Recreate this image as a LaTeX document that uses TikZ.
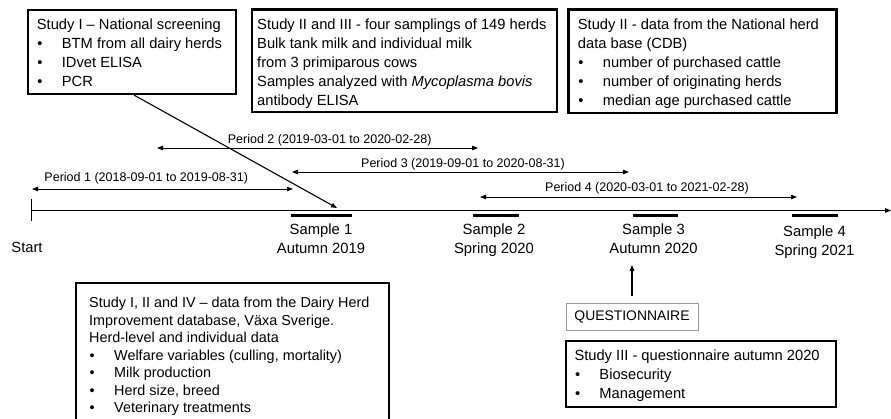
\documentclass[tikz,border=0pt]{standalone}
\usepackage{fontspec}
\setmainfont{Liberation Sans}
\usetikzlibrary{arrows.meta,calc}
\newcommand{\bxt}[5]{\parbox[c][#2][t]{#1}{\parskip=0pt\raggedright\leftskip=#3\relax\rule{0pt}{#4}#5}}
\newcommand{\itm}{\hspace*{0.5pt}\makebox[24.5pt][l]{\textbullet}}
\begin{document}
\begin{tikzpicture}[x=1pt,y=-1pt,
  studybox/.style={draw, line width=2.4pt, inner sep=0pt, anchor=north west, font=\fontsize{14.7}{19}\selectfont},
  tip/.tip={Triangle[length=6pt,width=4.5pt]},
  per/.style={line width=1pt, tip-tip},
  perlabel/.style={anchor=base, inner sep=0pt, font=\fontsize{12.5}{15}\selectfont},
  samplelabel/.style={anchor=base, inner sep=0pt, align=center, font=\fontsize{14.8}{19}\selectfont},
  bar/.style={line width=3pt},
  ]
\useasboundingbox (0,0) rectangle (891,418);
\fill[white] (0,0) rectangle (891,418);
\clip (0,0) rectangle (891,418);

% study boxes
\node[studybox] (b1) at (26.7,9) {\bxt{208.3pt}{83.7pt}{9pt}{19pt}{Study I – National screening\\ \itm BTM from all dairy herds\\ \itm IDvet ELISA\\ \itm PCR}};
\node[studybox] (b2) at (251,8.3) {\bxt{305pt}{102.4pt}{5pt}{19.7pt}{Study II and III - four samplings of 149 herds\\ Bulk tank milk and individual milk\\ from 3 primiparous cows\\ Samples analyzed with \textit{Mycoplasma bovis}\\ antibody ELISA}};
\node[studybox] (b3) at (567.3,8.3) {\bxt{268pt}{103.4pt}{9.4pt}{19.7pt}{Study II - data from the National herd\\ data base (CDB)\\ \itm number of purchased cattle\\ \itm number of originating herds\\ \itm median age purchased cattle}};
\node[studybox, font=\fontsize{14.4}{17.5}\selectfont] (b4) at (75,282) {\bxt{313pt}{148pt}{13pt}{24.7pt}{Study I, II and IV – data from the Dairy Herd\\ Improvement database, Växa Sverige.\\ Herd-level and individual data\\ \itm Welfare variables (culling, mortality)\\ \itm Milk production\\ \itm Herd size, breed\\ \itm Veterinary treatments}};
\node[studybox, font=\fontsize{14.7}{18.7}\selectfont] (b5) at (565,340) {\bxt{270pt}{66pt}{8.3pt}{19.6pt}{Study III - questionnaire autumn 2020\\ \itm Biosecurity\\ \itm Management}};

% timeline
\coordinate (t0) at (31.7,210.5);
\coordinate (t1) at (891,210.5);
\draw[line width=1.2pt,-tip] (t0) -- (t1);
\draw[line width=1.2pt] (31.7,199) -- (31.7,221);
\node[anchor=base, inner sep=0pt, font=\fontsize{14.7}{19}\selectfont] (start) at (27,252.3) {Start};

% sample bars
\draw[bar] (290.7,215.5) -- (351.7,215.5);
\draw[bar] (473.3,215.5) -- (519,215.5);
\draw[bar] (632.7,215.5) -- (678.3,215.5);
\draw[bar] (792.3,215.5) -- (838.3,215.5);

% sample labels (base = baseline of the last line)
\node[samplelabel] (s1) at (321,253.6) {Sample 1\\Autumn 2019};
\node[samplelabel] (s2) at (494,253.6) {Sample 2\\Spring 2020};
\node[samplelabel] (s3) at (653.5,253) {Sample 3\\Autumn 2020};
\node[samplelabel] (s4) at (814.5,255.3) {Sample 4\\Spring 2021};

% periods
\coordinate (p1a) at (32,189); \coordinate (p1b) at (293,189);
\coordinate (p2a) at (157,148); \coordinate (p2b) at (478,148);
\coordinate (p3a) at (292,172); \coordinate (p3b) at (629,172);
\coordinate (p4a) at (480,197); \coordinate (p4b) at (797,197);
\draw[per] (p1a) -- (p1b);
\draw[per] (p2a) -- (p2b);
\draw[per] (p3a) -- (p3b);
\draw[per] (p4a) -- (p4b);
\node[perlabel] (l1) at (146.3,181.5) {Period 1 (2018-09-01 to 2019-08-31)};
\node[perlabel] (l2) at (329.7,143.5) {Period 2 (2019-03-01 to 2020-02-28)};
\node[perlabel] (l3) at (463,167.5) {Period 3 (2019-09-01 to 2020-08-31)};
\node[perlabel] (l4) at (647,191.5) {Period 4 (2020-03-01 to 2021-02-28)};

% study I pointer
\coordinate (s1tip) at (337,208);
\draw[line width=1.1pt,-tip] ([xshift=2pt]b1.south) -- (s1tip);

% questionnaire
\node[draw=gray!80, line width=0.8pt, minimum width=132pt, minimum height=27pt, inner sep=0pt, font=\fontsize{13.9}{16}\selectfont] (q) at (632,316.5) {QUESTIONNAIRE};
\coordinate (qtip) at (632,265);
\draw[line width=1.1pt,-tip, shorten <=7pt] (q.north) -- (qtip);
\end{tikzpicture}
\end{document}
